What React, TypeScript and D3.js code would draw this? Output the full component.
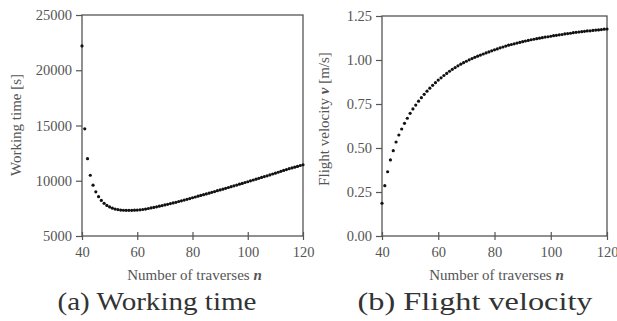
import { useEffect, useRef } from 'react'
import * as d3 from 'd3'

const traverses = [
  40, 41, 42, 43, 44, 45, 46, 47, 48, 49,
  50, 51, 52, 53, 54, 55, 56, 57, 58, 59,
  60, 61, 62, 63, 64, 65, 66, 67, 68, 69,
  70, 71, 72, 73, 74, 75, 76, 77, 78, 79,
  80, 81, 82, 83, 84, 85, 86, 87, 88, 89,
  90, 91, 92, 93, 94, 95, 96, 97, 98, 99,
  100, 101, 102, 103, 104, 105, 106, 107, 108, 109,
  110, 111, 112, 113, 114, 115, 116, 117, 118, 119,
  120,
]

const workingTime = [
  22200, 14700, 12000, 10500, 9600, 9000, 8560, 8220, 7960, 7770,
  7630, 7520, 7440, 7390, 7350, 7330, 7320, 7320, 7325, 7335,
  7350, 7370, 7400, 7440, 7490, 7540, 7590, 7640, 7700, 7750,
  7810, 7870, 7930, 7990, 8050, 8120, 8180, 8250, 8320, 8390,
  8460, 8530, 8600, 8670, 8740, 8810, 8880, 8950, 9020, 9100,
  9170, 9240, 9310, 9390, 9460, 9540, 9610, 9690, 9760, 9840,
  9910, 9990, 10070, 10140, 10220, 10300, 10380, 10450, 10530, 10610,
  10690, 10770, 10850, 10930, 11010, 11090, 11160, 11230, 11300, 11380,
  11450,
]

const flightVelocity = [
  0.186, 0.286, 0.365, 0.432, 0.485, 0.534, 0.574, 0.608, 0.640, 0.669,
  0.697, 0.722, 0.744, 0.766, 0.786, 0.805, 0.823, 0.840, 0.856, 0.871,
  0.886, 0.899, 0.912, 0.924, 0.936, 0.947, 0.957, 0.967, 0.976, 0.985,
  0.993, 1.001, 1.008, 1.015, 1.022, 1.028, 1.034, 1.040, 1.046, 1.052,
  1.058, 1.063, 1.069, 1.074, 1.079, 1.084, 1.088, 1.092, 1.096, 1.100,
  1.104, 1.108, 1.111, 1.115, 1.118, 1.121, 1.124, 1.127, 1.130, 1.132,
  1.135, 1.138, 1.140, 1.143, 1.145, 1.148, 1.150, 1.152, 1.155, 1.157,
  1.159, 1.161, 1.163, 1.165, 1.166, 1.168, 1.170, 1.171, 1.173, 1.175,
  1.176,
]

const xTicks = [40, 60, 80, 100, 120]
const timeTicks = [5000, 10000, 15000, 20000, 25000]
const velocityTicks = [0, 0.25, 0.5, 0.75, 1.0, 1.25]

const FONT = '"Liberation Serif", "Times New Roman", serif'
const GRAY = '#555'

type PanelSpec = {
  x0: number
  x1: number
  top: number
  values: number[]
  yDomain: [number, number]
  yTicks: number[]
  yFormat: (v: number) => string
  yLabel: string
  yLabelItalic: string
  yLabelRest: string
  yLabelX: number
  yLabelY: number
  caption: string
  captionX: number
  captionW: number
}

function drawPanel(svg: d3.Selection<SVGSVGElement, unknown, null, undefined>, p: PanelSpec) {
  const bottom = 236
  const x = d3.scaleLinear().domain([40, 120]).range([p.x0, p.x1])
  const y = d3.scaleLinear().domain(p.yDomain).range([bottom, p.top])

  const g = svg.append('g')

  // frame
  g.append('rect')
    .attr('x', p.x0).attr('y', p.top)
    .attr('width', p.x1 - p.x0).attr('height', bottom - p.top)
    .attr('fill', 'none').attr('stroke', GRAY).attr('stroke-width', 1.3)

  g.append('g')
    .attr('transform', `translate(0,${bottom})`)
    .call(d3.axisBottom(x).tickValues(xTicks).tickSizeOuter(0).tickSizeInner(4).tickPadding(7).tickFormat((d) => `${d}`))
    .call((ax) => ax.select('.domain').remove())
    .call((ax) => ax.selectAll('.tick line').attr('stroke', GRAY).attr('stroke-width', 1.2).attr('y1', -4).attr('y2', 4))
    .call((ax) => ax.selectAll('text').attr('fill', GRAY).attr('font-size', 14.5).attr('font-family', FONT))

  g.append('g')
    .attr('transform', `translate(${p.x0},0)`)
    .call(d3.axisLeft(y).tickValues(p.yTicks).tickSize(6).tickPadding(4).tickFormat((d) => p.yFormat(d as number)))
    .call((ax) => ax.select('.domain').remove())
    .call((ax) => ax.selectAll('.tick line').attr('stroke', GRAY).attr('stroke-width', 1.2))
    .call((ax) => ax.selectAll('text').attr('fill', GRAY).attr('font-size', 14.5).attr('font-family', FONT))

  g.append('g')
    .selectAll('circle')
    .data(traverses)
    .join('circle')
    .attr('cx', (d) => x(d))
    .attr('cy', (_, i) => y(p.values[i]))
    .attr('r', 1.6)
    .attr('fill', '#111')

  const xt = g.append('text')
    .attr('x', (p.x0 + p.x1) / 2 + 2).attr('y', 280)
    .attr('text-anchor', 'middle').attr('fill', GRAY)
    .attr('font-size', 15).attr('font-family', FONT)
  xt.append('tspan').text('Number of traverses ')
  xt.append('tspan').attr('font-style', 'italic').attr('font-weight', 'bold').text('n')

  const yt = g.append('text')
    .attr('transform', `translate(${p.yLabelX},${p.yLabelY}) rotate(-90)`)
    .attr('text-anchor', 'middle').attr('fill', GRAY)
    .attr('font-size', 15).attr('font-family', FONT)
  yt.append('tspan').text(p.yLabel)
  if (p.yLabelItalic) {
    yt.append('tspan').attr('font-style', 'italic').attr('font-weight', 'bold').text(p.yLabelItalic)
    yt.append('tspan').text(p.yLabelRest)
  }

  g.append('text')
    .attr('x', p.captionX - p.captionW / 2).attr('y', 310)
    .attr('fill', '#333')
    .attr('font-size', 25).attr('font-family', FONT)
    .attr('textLength', p.captionW).attr('lengthAdjust', 'spacingAndGlyphs')
    .text(p.caption)
}

export default function App() {
  const svgRef = useRef<SVGSVGElement>(null)

  useEffect(() => {
    const svg = d3.select(svgRef.current!)
    svg.selectAll('*').remove()

    drawPanel(svg, {
      x0: 82, x1: 303, top: 15,
      values: workingTime,
      yDomain: [5000, 25000],
      yTicks: timeTicks,
      yFormat: (v) => `${v}`,
      yLabel: 'Working time [s]',
      yLabelItalic: '', yLabelRest: '',
      yLabelX: 21, yLabelY: 125,
      caption: '(a) Working time',
      captionX: 157, captionW: 199,
    })

    drawPanel(svg, {
      x0: 382, x1: 607, top: 16,
      values: flightVelocity,
      yDomain: [0, 1.25],
      yTicks: velocityTicks,
      yFormat: (v) => v.toFixed(2),
      yLabel: 'Flight velocity ',
      yLabelItalic: 'v', yLabelRest: ' [m/s]',
      yLabelX: 329, yLabelY: 119,
      caption: '(b) Flight velocity',
      captionX: 475, captionW: 235,
    })

    return () => { svg.selectAll('*').remove() }
  }, [])

  return (
    <div style={{ position: 'absolute', left: 0, top: 0 }}>
      <svg ref={svgRef} width={617} height={321} style={{ display: 'block', background: '#fff' }} />
    </div>
  )
}
